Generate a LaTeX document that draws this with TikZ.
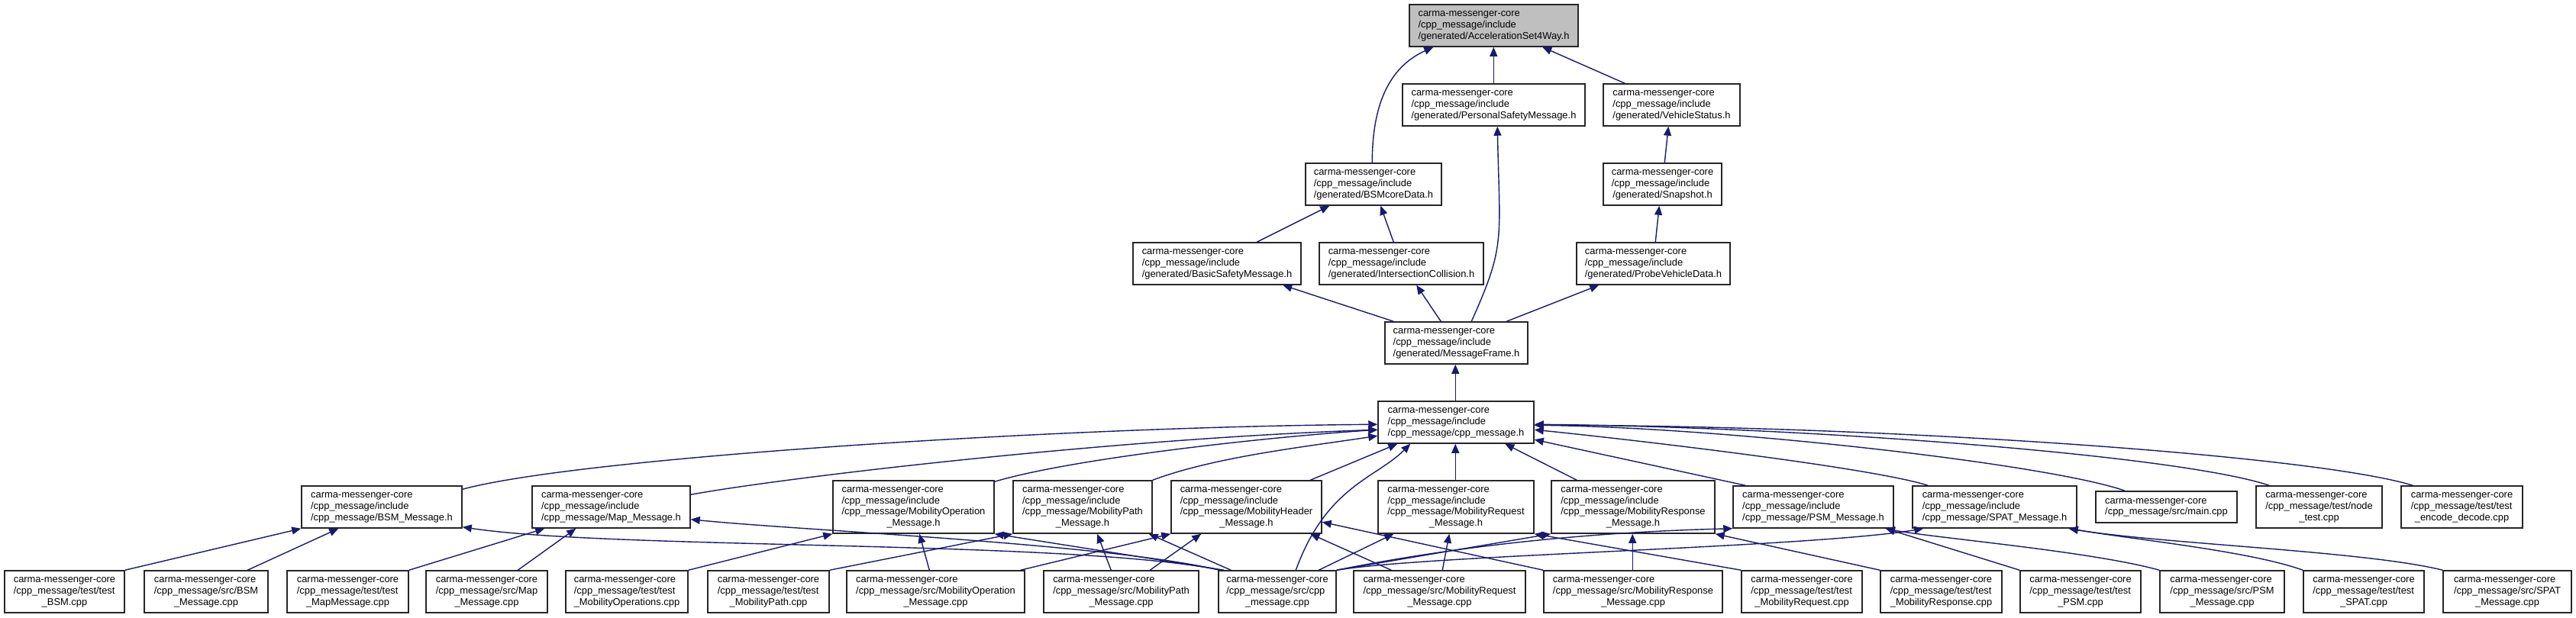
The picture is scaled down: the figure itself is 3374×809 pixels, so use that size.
\documentclass[tikz,border=0pt]{standalone}
\usepackage{fontspec}
\setmainfont{Liberation Sans}
\usetikzlibrary{arrows.meta}
\definecolor{edgeblue}{HTML}{191970}
\definecolor{rootgray}{HTML}{BFBFBF}
\newcommand{\lastc}[1]{\multicolumn{1}{@{}c@{}}{#1}}
\newcommand{\dnode}[7][]{\node[box,#1,minimum width={(#5-#3)*1pt},minimum height={(#6-#4)*1pt}] (#2) at ({(#3+#5)/2},{(#4+#6)/2}) {\begin{tabular}{@{}l@{}}#7\end{tabular}};}
\tikzset{
  box/.style={draw=black!85, line width=1.5pt, fill=white, inner sep=0pt, font=\fontsize{12.9pt}{14.7pt}\selectfont},
  edge/.style={draw=edgeblue, line width=1.4pt, -{Triangle[length=12pt,width=10pt]}}
}
\begin{document}
\begin{tikzpicture}[x=1pt,y=-1pt]
\useasboundingbox (0,0) rectangle (3374,809);
\fill[white] (0,0) rectangle (3374,809);
% top part
\dnode[fill=rootgray]{a4w}{1846}{6}{2067}{61}{carma-messenger-core\\/cpp\_message/include\\\lastc{/generated/AccelerationSet4Way.h}}
\dnode{psmg}{1837}{110}{2076}{165}{carma-messenger-core\\/cpp\_message/include\\\lastc{/generated/PersonalSafetyMessage.h}}
\dnode{vstat}{2100}{110}{2279}{165}{carma-messenger-core\\/cpp\_message/include\\\lastc{/generated/VehicleStatus.h}}
\dnode{bsmcore}{1710}{214}{1888}{269}{carma-messenger-core\\/cpp\_message/include\\\lastc{/generated/BSMcoreData.h}}
\dnode{snap}{2100}{214}{2255}{269}{carma-messenger-core\\/cpp\_message/include\\\lastc{/generated/Snapshot.h}}
\dnode{basic}{1484}{318}{1704}{373}{carma-messenger-core\\/cpp\_message/include\\\lastc{/generated/BasicSafetyMessage.h}}
\dnode{intcol}{1728}{318}{1943}{373}{carma-messenger-core\\/cpp\_message/include\\\lastc{/generated/IntersectionCollision.h}}
\dnode{probe}{2065}{318}{2266}{373}{carma-messenger-core\\/cpp\_message/include\\\lastc{/generated/ProbeVehicleData.h}}
\dnode{mframe}{1814}{422}{2001}{477}{carma-messenger-core\\/cpp\_message/include\\\lastc{/generated/MessageFrame.h}}
\dnode{cpph}{1805}{526}{2009}{581}{carma-messenger-core\\/cpp\_message/include\\\lastc{/cpp\_message/cpp\_message.h}}
% row 6
\dnode{bsmh}{395}{637}{605}{692}{carma-messenger-core\\/cpp\_message/include\\\lastc{/cpp\_message/BSM\_Message.h}}
\dnode{maph}{697}{637}{904}{692}{carma-messenger-core\\/cpp\_message/include\\\lastc{/cpp\_message/Map\_Message.h}}
\dnode{mobop}{1091}{630}{1302}{699}{carma-messenger-core\\/cpp\_message/include\\/cpp\_message/MobilityOperation\\\lastc{\_Message.h}}
\dnode{mobpath}{1327}{630}{1509}{699}{carma-messenger-core\\/cpp\_message/include\\/cpp\_message/MobilityPath\\\lastc{\_Message.h}}
\dnode{mobhead}{1534}{630}{1731}{699}{carma-messenger-core\\/cpp\_message/include\\/cpp\_message/MobilityHeader\\\lastc{\_Message.h}}
\dnode{mobreq}{1805}{630}{2009}{699}{carma-messenger-core\\/cpp\_message/include\\/cpp\_message/MobilityRequest\\\lastc{\_Message.h}}
\dnode{mobresp}{2032}{630}{2246}{699}{carma-messenger-core\\/cpp\_message/include\\/cpp\_message/MobilityResponse\\\lastc{\_Message.h}}
\dnode{psmh}{2270}{637}{2480}{692}{carma-messenger-core\\/cpp\_message/include\\\lastc{/cpp\_message/PSM\_Message.h}}
\dnode{spath}{2505}{637}{2720}{692}{carma-messenger-core\\/cpp\_message/include\\\lastc{/cpp\_message/SPAT\_Message.h}}
\dnode{mainc}{2745}{644}{2930}{685}{carma-messenger-core\\\lastc{/cpp\_message/src/main.cpp}}
\dnode{nodet}{2955}{637}{3120}{692}{carma-messenger-core\\/cpp\_message/test/node\\\lastc{\_test.cpp}}
\dnode{encdec}{3145}{637}{3304}{692}{carma-messenger-core\\/cpp\_message/test/test\\\lastc{\_encode\_decode.cpp}}
% row 7
\dnode{tbsm}{6}{748}{163}{803}{carma-messenger-core\\/cpp\_message/test/test\\\lastc{\_BSM.cpp}}
\dnode{sbsm}{189}{748}{351}{803}{carma-messenger-core\\/cpp\_message/src/BSM\\\lastc{\_Message.cpp}}
\dnode{tmap}{376}{748}{535}{803}{carma-messenger-core\\/cpp\_message/test/test\\\lastc{\_MapMessage.cpp}}
\dnode{smap}{558}{748}{717}{803}{carma-messenger-core\\/cpp\_message/src/Map\\\lastc{\_Message.cpp}}
\dnode{tmobops}{741}{748}{901}{803}{carma-messenger-core\\/cpp\_message/test/test\\\lastc{\_MobilityOperations.cpp}}
\dnode{tmobpath}{927}{748}{1086}{803}{carma-messenger-core\\/cpp\_message/test/test\\\lastc{\_MobilityPath.cpp}}
\dnode{smobop}{1109}{748}{1342}{803}{carma-messenger-core\\/cpp\_message/src/MobilityOperation\\\lastc{\_Message.cpp}}
\dnode{smobpath}{1367}{748}{1570}{803}{carma-messenger-core\\/cpp\_message/src/MobilityPath\\\lastc{\_Message.cpp}}
\dnode{scpp}{1596}{748}{1750}{803}{carma-messenger-core\\/cpp\_message/src/cpp\\\lastc{\_message.cpp}}
\dnode{smobreq}{1773}{748}{1998}{803}{carma-messenger-core\\/cpp\_message/src/MobilityRequest\\\lastc{\_Message.cpp}}
\dnode{smobresp}{2022}{748}{2256}{803}{carma-messenger-core\\/cpp\_message/src/MobilityResponse\\\lastc{\_Message.cpp}}
\dnode{tmobreq}{2281}{748}{2439}{803}{carma-messenger-core\\/cpp\_message/test/test\\\lastc{\_MobilityRequest.cpp}}
\dnode{tmobresp}{2463}{748}{2622}{803}{carma-messenger-core\\/cpp\_message/test/test\\\lastc{\_MobilityResponse.cpp}}
\dnode{tpsm}{2646}{748}{2804}{803}{carma-messenger-core\\/cpp\_message/test/test\\\lastc{\_PSM.cpp}}
\dnode{spsm}{2829}{748}{2992}{803}{carma-messenger-core\\/cpp\_message/src/PSM\\\lastc{\_Message.cpp}}
\dnode{tspat}{3017}{748}{3175}{803}{carma-messenger-core\\/cpp\_message/test/test\\\lastc{\_SPAT.cpp}}
\dnode{sspat}{3200}{748}{3368}{803}{carma-messenger-core\\/cpp\_message/src/SPAT\\\lastc{\_Message.cpp}}
% edges: top part
\draw[edge] ([shift={(88,0)}]bsmcore.north west) .. controls +(0,-84) and +(-53,24) .. ([shift={(32,0)}]a4w.south west);
\draw[edge] ([shift={(120,0)}]psmg.north west) -- ([shift={(111,0)}]a4w.south west);
\draw[edge] ([shift={(29,0)}]vstat.north west) -- ([shift={(175,0)}]a4w.south west);
\draw[edge] ([shift={(81,0)}]snap.north west) -- ([shift={(86,0)}]vstat.south west);
\draw[edge] ([shift={(163,0)}]basic.north west) -- ([shift={(32,0)}]bsmcore.south west);
\draw[edge] ([shift={(98,0)}]intcol.north west) -- ([shift={(99,0)}]bsmcore.south west);
\draw[edge] ([shift={(104,0)}]probe.north west) -- ([shift={(74,0)}]snap.south west);
\draw[edge] ([shift={(12,0)}]mframe.north west) -- ([shift={(197,0)}]basic.south west);
\draw[edge] ([shift={(74,0)}]mframe.north west) -- ([shift={(128,0)}]intcol.south west);
\draw[edge] ([shift={(114,0)}]mframe.north west) .. controls +(45,-100) and +(3,150) .. ([shift={(125,0)}]psmg.south west);
\draw[edge] ([shift={(160,0)}]mframe.north west) -- ([shift={(30,0)}]probe.south west);
\draw[edge] ([shift={(102,0)}]cpph.north west) -- ([shift={(93,0)}]mframe.south west);
% row 6 -> cpp_message.h
\draw[edge] ([shift={(0,5)}]bsmh.north east) .. controls +(155,-42) and +(-405,3) .. ([shift={(0,31)}]cpph.north west);
\draw[edge] ([shift={(0,12)}]maph.north east) .. controls +(120,-22) and +(-350,12) .. ([shift={(0,38)}]cpph.north west);
\draw[edge] ([shift={(0,2)}]mobop.north east) .. controls +(100,-30) and +(-150,10) .. ([shift={(0,38)}]cpph.north west);
\draw[edge] (mobpath.north east) .. controls +(80,-30) and +(-100,15) .. ([shift={(0,46)}]cpph.north west);
\draw[edge] ([shift={(183,0)}]mobhead.north west) -- ([shift={(26,0)}]cpph.south west);
\draw[edge] ([shift={(102,0)}]scpp.north west) .. controls +(40,-110) and +(-45,45) .. ([shift={(43,0)}]cpph.south west);
\draw[edge] ([shift={(102,0)}]mobreq.north west) -- ([shift={(102,0)}]cpph.south west);
\draw[edge] ([shift={(34,0)}]mobresp.north west) -- ([shift={(167,0)}]cpph.south west);
\draw[edge] ([shift={(17,0)}]psmh.north west) -- ([shift={(0,51)}]cpph.north east);
\draw[edge] ([shift={(21,0)}]spath.north west) .. controls +(-80,-25) and +(100,10) .. ([shift={(0,38)}]cpph.north east);
\draw[edge] ([shift={(39,0)}]mainc.north west) .. controls +(-100,-35) and +(250,3) .. ([shift={(0,32)}]cpph.north east);
\draw[edge] ([shift={(18,0)}]nodet.north west) .. controls +(-120,-40) and +(350,3) .. ([shift={(0,31)}]cpph.north east);
\draw[edge] ([shift={(16,0)}]encdec.north west) .. controls +(-130,-40) and +(450,0) .. ([shift={(0,32)}]cpph.north east);
% row 7 -> row 6
\draw[edge] (tbsm.north east) -- (bsmh.south west);
\draw[edge] ([shift={(136,0)}]sbsm.north west) -- ([shift={(49,0)}]bsmh.south west);
\draw[edge] (tmap.north east) -- ([shift={(17,0)}]maph.south west);
\draw[edge] ([shift={(121,0)}]smap.north west) -- ([shift={(58,0)}]maph.south west);
\draw[edge] (tmobops.north east) -- (mobop.south west);
\draw[edge] (tmobpath.north east) -- (mobpath.south west);
\draw[edge] ([shift={(109,0)}]smobop.north west) -- ([shift={(114,0)}]mobop.south west);
\draw[edge] ([shift={(-6,0)}]smobop.north east) -- (mobhead.south west);
\draw[edge] ([shift={(89,0)}]smobpath.north west) -- ([shift={(111,0)}]mobpath.south west);
\draw[edge] ([shift={(140,0)}]smobpath.north west) -- ([shift={(40,0)}]mobhead.south west);
\draw[edge] ([shift={(117,0)}]smobreq.north west) -- ([shift={(94,0)}]mobreq.south west);
\draw[edge] ([shift={(50,0)}]smobreq.north west) -- ([shift={(183,0)}]mobhead.south west);
\draw[edge] ([shift={(117,0)}]smobresp.north west) -- ([shift={(107,0)}]mobresp.south west);
\draw[edge] (smobresp.north west) -- ([shift={(0,55)}]mobhead.north east);
\draw[edge] (tmobreq.north west) -- (mobreq.south east);
\draw[edge] (tmobresp.north west) -- (mobresp.south east);
\draw[edge] (tpsm.north west) -- ([shift={(-11,0)}]psmh.south east);
\draw[edge] (spsm.north west) .. controls +(-90,-25) and +(60,12) .. ([shift={(-11,0)}]psmh.south east);
\draw[edge] (tspat.north west) .. controls +(-70,-25) and +(90,15) .. ([shift={(-11,0)}]spath.south east);
\draw[edge] (sspat.north west) .. controls +(-100,-25) and +(120,20) .. ([shift={(-11,0)}]spath.south east);
% src/cpp_message.cpp
\draw[edge] ([shift={(4,0)}]scpp.north west) .. controls +(-200,-40) and +(200,30) .. ([shift={(0,-2)}]bsmh.south east);
\draw[edge] ([shift={(2,0)}]scpp.north west) .. controls +(-150,-35) and +(150,15) .. ([shift={(0,-12)}]maph.south east);
\draw[edge] ([shift={(8,0)}]scpp.north west) -- (mobop.south east);
\draw[edge] ([shift={(17,0)}]scpp.north west) -- ([shift={(-5,0)}]mobpath.south east);
\draw[edge] ([shift={(132,0)}]scpp.north west) -- ([shift={(21,0)}]mobreq.south west);
\draw[edge] (scpp.north east) -- (mobresp.south west);
\draw[edge] (scpp.north east) .. controls +(150,-30) and +(-200,5) .. (psmh.south west);
\draw[edge] (scpp.north east) .. controls +(120,-20) and +(-150,25) .. ([shift={(15,0)}]spath.south west);
\end{tikzpicture}
\end{document}
